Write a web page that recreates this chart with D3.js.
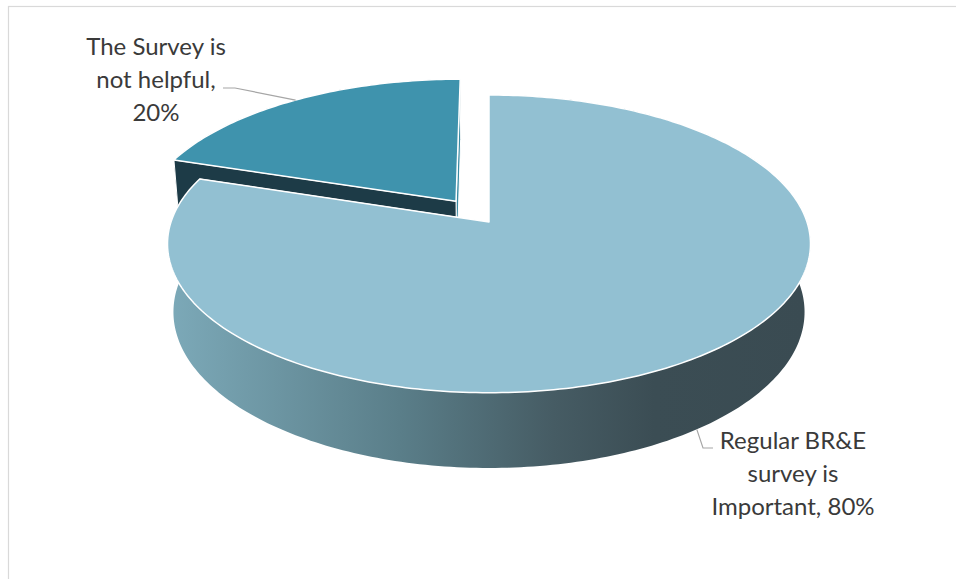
<!DOCTYPE html>
<html>
<head>
<meta charset="utf-8">
<script src="https://cdn.jsdelivr.net/npm/d3@7"></script>
<style>
  html, body { margin: 0; padding: 0; background: #ffffff; }
  svg { display: block; }
</style>
</head>
<body>
<svg id="chart" width="956" height="579"></svg>
<script>
// Survey answers
const categories = ["Regular BR&E survey is Important", "The Survey is not helpful"];
const values = [80, 20];
const labelLines = [
  ["Regular BR&E", "survey is", "Important, 80%"],
  ["The Survey is", "not helpful,", "20%"]
];
const explode = [0, 0.18];               // radial pull-out, in radius units
const topColors = ["#92c0d2", "#3f93ad"];
const radialColors = [["#3b4d54", "#3b4d54"], ["#1d3b47", "#3a8aa3"]];

const W = 956, H = 579;
const svg = d3.select("#chart");

// frame
svg.append("rect")
  .attr("x", 8.5).attr("y", 6.5)
  .attr("width", W + 20).attr("height", H + 20)
  .attr("fill", "none").attr("stroke", "#d9d9d9").attr("stroke-width", 1.2);

// 3D view: disc of unit radius, tilted toward the viewer with perspective
const view = {
  cx: 489, cy: 222, S: 318,
  tilt: 27.26 * Math.PI / 180,
  D: 6.05,          // camera distance (radius units)
  h: 0.243          // thickness (radius units)
};
const sinA = Math.sin(view.tilt), cosA = Math.cos(view.tilt);
function proj(u, v, w) {
  const Y = w * cosA + v * sinA;
  const Z = v * cosA - w * sinA;
  const f = 1 / (1 + Z / view.D);
  return [view.cx + view.S * u * f, view.cy - view.S * Y * f];
}

const pie = d3.pie().sort(null).startAngle(0).endAngle(2 * Math.PI);
const arcs = pie(values);

const defs = svg.append("defs");
const grad = defs.append("linearGradient")
  .attr("id", "sideGrad")
  .attr("gradientUnits", "userSpaceOnUse")
  .attr("x1", view.cx - view.S).attr("y1", 0)
  .attr("x2", view.cx + view.S).attr("y2", 0);
[[0, "#7ca9b8"], [0.36, "#5a7e89"], [0.6, "#465c64"], [0.76, "#3b4d54"], [1, "#3a4b52"]]
  .forEach(([o, c]) => grad.append("stop").attr("offset", o).attr("stop-color", c));

const line = d3.line();

function sliceGeom(d, i) {
  const mid = (d.startAngle + d.endAngle) / 2;
  const ou = explode[i] * Math.sin(mid), ov = explode[i] * Math.cos(mid);
  const n = Math.max(8, Math.ceil((d.endAngle - d.startAngle) / (Math.PI / 180)));
  const angles = d3.range(n + 1).map(k => d.startAngle + (d.endAngle - d.startAngle) * k / n);
  const rimTop = angles.map(a => proj(ou + Math.sin(a), ov + Math.cos(a), 0));
  const rimBot = angles.map(a => proj(ou + Math.sin(a), ov + Math.cos(a), -view.h));
  const cTop = proj(ou, ov, 0), cBot = proj(ou, ov, -view.h);
  return { mid, ou, ov, rimTop, rimBot, cTop, cBot };
}

// the pulled-out slice sits behind, so draw it first
const order = [1, 0];
order.forEach(i => {
  const d = arcs[i];
  const g = sliceGeom(d, i);
  const grp = svg.append("g").attr("class", "slice");
  const wallFill = i === 0 ? "url(#sideGrad)" : radialColors[i][0];

  const endQuad = [g.cTop, g.rimTop[g.rimTop.length - 1], g.rimBot[g.rimBot.length - 1], g.cBot];
  const startQuad = [g.cTop, g.rimTop[0], g.rimBot[0], g.cBot];
  const wall = g.rimTop.concat(g.rimBot.slice().reverse());

  const drawRadials = () => {
    grp.append("path").attr("d", line(endQuad) + "Z")
      .attr("fill", radialColors[i][1]).attr("stroke", "#ffffff").attr("stroke-width", 1)
      .attr("stroke-linejoin", "round");
    grp.append("path").attr("d", line(startQuad) + "Z")
      .attr("fill", radialColors[i][0]).attr("stroke", "#ffffff").attr("stroke-width", 1)
      .attr("stroke-linejoin", "round");
  };
  const drawWall = () => {
    grp.append("path").attr("d", line(wall) + "Z")
      .attr("fill", wallFill).attr("stroke", "none");
  };

  // a slice whose rim lies behind its centre shows its cut faces in front of the rim
  const rimBehind = Math.cos(g.mid) > 0;
  if (rimBehind) { drawWall(); drawRadials(); } else { drawRadials(); drawWall(); }

  // top face
  const topPts = [g.cTop].concat(g.rimTop);
  grp.append("path").attr("d", line(topPts) + "Z")
    .attr("fill", topColors[i]).attr("stroke", "#ffffff").attr("stroke-width", 1.5)
    .attr("stroke-linejoin", "round");
});

// data labels with leader lines
const font = "Lato, 'Open Sans', sans-serif";
const labelLayout = [
  { x: 793, y: 449, elbow: [703, 448], end: [713, 448] },
  { x: 156, y: 55, elbow: [235, 88], end: [223, 88] }
];
arcs.forEach((d, i) => {
  const g = sliceGeom(d, i);
  // anchor: outer rim at the slice's mid angle (bottom rim for the front slice)
  const w = i === 0 ? -view.h : 0;
  const anchor = proj(g.ou + Math.sin(g.mid), g.ov + Math.cos(g.mid), w);
  const L = labelLayout[i];
  svg.append("path")
    .attr("d", line([anchor, L.elbow, L.end]))
    .attr("fill", "none").attr("stroke", "#a6a6a6").attr("stroke-width", 1.2);
  const t = svg.append("text")
    .attr("x", L.x).attr("y", L.y)
    .attr("text-anchor", "middle")
    .attr("font-family", font).attr("font-size", 24)
    .attr("fill", "#3a3a3a");
  labelLines[i].forEach((s, k) => {
    t.append("tspan").attr("x", L.x).attr("y", L.y + k * 33).text(s);
  });
});
</script>
</body>
</html>
